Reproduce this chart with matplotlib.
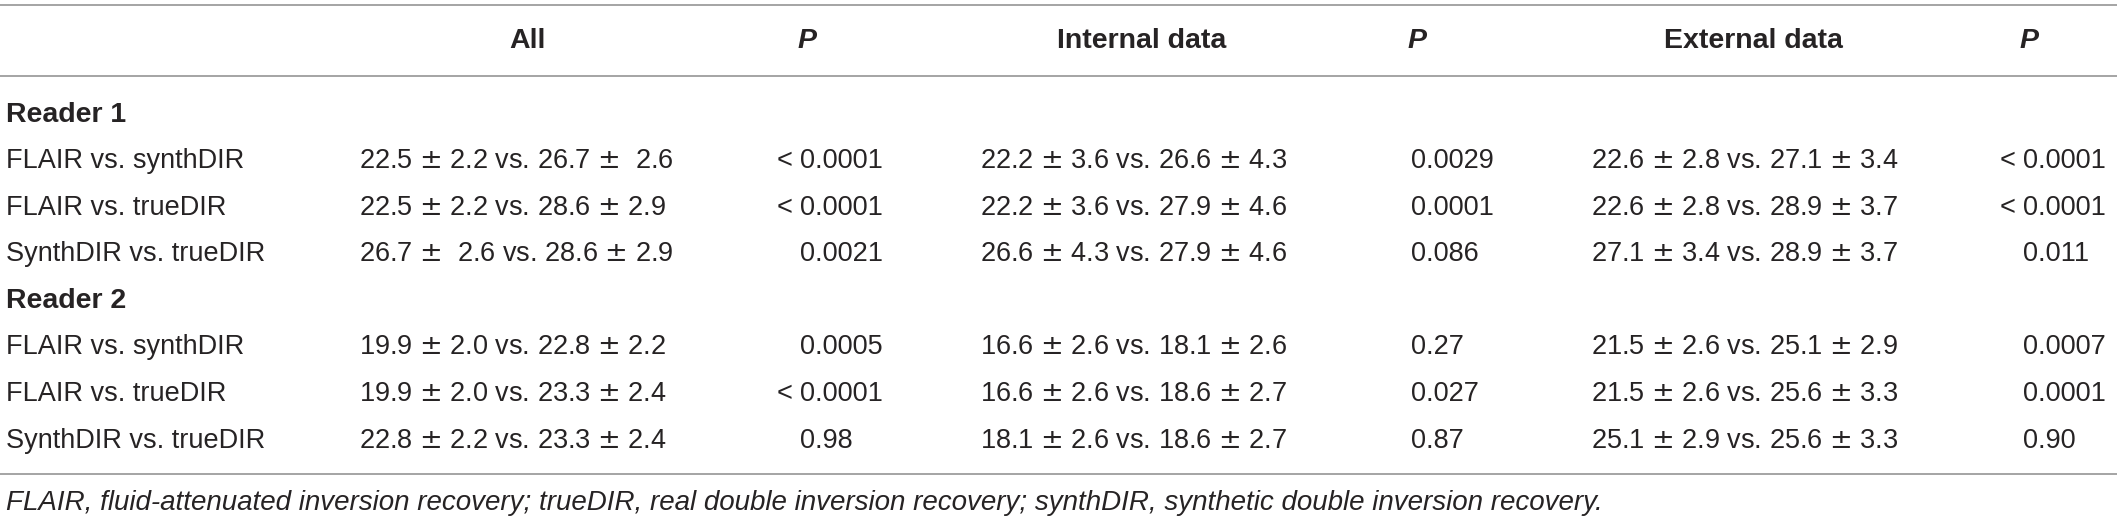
import matplotlib
matplotlib.use("Agg")
import matplotlib.pyplot as plt

# ---- data ----
header_groups = ["All", "Internal data", "External data"]
p_header = "P"
readers = ["Reader 1", "Reader 2"]
comparisons = ["FLAIR vs. synthDIR", "FLAIR vs. trueDIR", "SynthDIR vs. trueDIR"]

all_r1 = ["22.5 \u00b1 2.2 vs. 26.7 \u00b1  2.6", "22.5 \u00b1 2.2 vs. 28.6 \u00b1 2.9", "26.7 \u00b1  2.6 vs. 28.6 \u00b1 2.9"]
p_all_r1 = ["< 0.0001", "< 0.0001", "0.0021"]
int_r1 = ["22.2 \u00b1 3.6 vs. 26.6 \u00b1 4.3", "22.2 \u00b1 3.6 vs. 27.9 \u00b1 4.6", "26.6 \u00b1 4.3 vs. 27.9 \u00b1 4.6"]
p_int_r1 = ["0.0029", "0.0001", "0.086"]
ext_r1 = ["22.6 \u00b1 2.8 vs. 27.1 \u00b1 3.4", "22.6 \u00b1 2.8 vs. 28.9 \u00b1 3.7", "27.1 \u00b1 3.4 vs. 28.9 \u00b1 3.7"]
p_ext_r1 = ["< 0.0001", "< 0.0001", "0.011"]

all_r2 = ["19.9 \u00b1 2.0 vs. 22.8 \u00b1 2.2", "19.9 \u00b1 2.0 vs. 23.3 \u00b1 2.4", "22.8 \u00b1 2.2 vs. 23.3 \u00b1 2.4"]
p_all_r2 = ["0.0005", "< 0.0001", "0.98"]
int_r2 = ["16.6 \u00b1 2.6 vs. 18.1 \u00b1 2.6", "16.6 \u00b1 2.6 vs. 18.6 \u00b1 2.7", "18.1 \u00b1 2.6 vs. 18.6 \u00b1 2.7"]
p_int_r2 = ["0.27", "0.027", "0.87"]
ext_r2 = ["21.5 \u00b1 2.6 vs. 25.1 \u00b1 2.9", "21.5 \u00b1 2.6 vs. 25.6 \u00b1 3.3", "25.1 \u00b1 2.9 vs. 25.6 \u00b1 3.3"]
p_ext_r2 = ["0.0007", "0.0001", "0.90"]

caption = ("FLAIR, fluid-attenuated inversion recovery; trueDIR, real double inversion recovery; "
           "synthDIR, synthetic double inversion recovery.")

# ---- layout ----
W, H = 2117, 528
plt.rcParams['font.family'] = ['Liberation Sans Narrow', 'Liberation Sans', 'DejaVu Sans']
plt.rcParams['mathtext.fontset'] = 'dejavusans'
TXT = '#262324'
LINE = '#9d9d9d'
FS = 19.5
FS_BOLD = 20.5
FS_CAP = 20.0

fig = plt.figure(figsize=(W / 100, H / 100), dpi=100)
ax = fig.add_axes([0, 0, 1, 1])
ax.set_xlim(0, W)
ax.set_ylim(H, 0)
ax.axis('off')

label_x = 6
data_x = [359, 980, 1591]
data_center = [527, 1142, 1753]
p_x = [800, 1411, 2023]

BASE = 9.5          # offset from row centre to text baseline (pixels)
y_header = 38
y_lines = [5, 76, 474]
y_caption = 500
row_step = 46.6
y_first = 112


def widen(s):
    # the source typesetting uses a wide plus-minus glyph
    return s.replace("\u00b1", r"$\pm$")


def put(x, y, s, ha='left', **kw):
    ax.text(x, y + BASE, s, ha=ha, va='baseline', color=TXT, **kw)


for y in y_lines:
    ax.plot([0, W], [y, y], color=LINE, lw=1.3, solid_capstyle='butt')

for name, cx, px in zip(header_groups, data_center, p_x):
    put(cx, y_header, name, ha='center', fontsize=FS_BOLD, fontweight='bold')
    put(px - 3, y_header, p_header, fontsize=FS_BOLD, fontweight='bold', style='italic')

blocks = [
    (readers[0], [all_r1, int_r1, ext_r1], [p_all_r1, p_int_r1, p_ext_r1]),
    (readers[1], [all_r2, int_r2, ext_r2], [p_all_r2, p_int_r2, p_ext_r2]),
]

row = 0
for reader, vals, ps in blocks:
    y = y_first + row * row_step
    put(label_x, y, reader, fontsize=FS_BOLD, fontweight='bold')
    row += 1
    for i, comp in enumerate(comparisons):
        y = y_first + row * row_step
        put(label_x, y, comp, fontsize=FS)
        for c in range(3):
            put(data_x[c], y, widen(vals[c][i]), fontsize=FS)
            p = ps[c][i]
            if p.startswith('<'):
                put(p_x[c], y, '< ', ha='right', fontsize=FS)
                p = p[1:].strip()
            put(p_x[c], y, p, fontsize=FS)
        row += 1

put(label_x, y_caption, caption, fontsize=FS_CAP, style='italic')

fig.savefig('out.png', dpi=100)
